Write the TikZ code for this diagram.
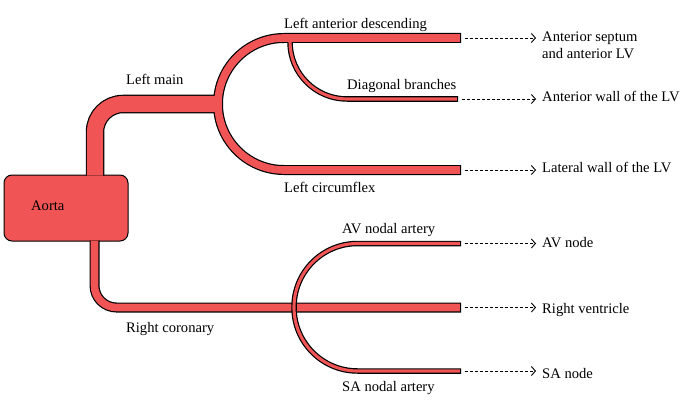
\documentclass[tikz,border=0pt]{standalone}
\usepackage{fontspec}
\setmainfont{Liberation Serif}
\usetikzlibrary{arrows.meta}

\definecolor{vesselred}{RGB}{240,84,84}

\begin{document}
\begin{tikzpicture}[x=1pt, y=-1pt,
    every node/.style={font=\fontsize{14.6}{17}\selectfont, inner sep=0pt},
    vessel/.style={draw=black, line width=#1, line cap=butt},
    blood/.style={draw=vesselred, line width=#1-2.4pt, line cap=butt},
    feed/.style={line width=0.9pt, dash pattern=on 3pt off 2pt,
        -{Straight Barb[length=4pt,width=9pt]}, shorten <=4pt, shorten >=6pt}]
    \useasboundingbox (0,0) rectangle (700,417);

    % Vessel ends
    \coordinate (lmStart) at (95,175.5);
    \coordinate (rcaStart) at (94.5,240.5);
    \coordinate (ladEnd) at (461,38);
    \coordinate (diagEnd) at (458,99);
    \coordinate (lcxEnd) at (461,170);
    \coordinate (avEnd) at (461,243.5);
    \coordinate (rvEnd) at (461,307.5);
    \coordinate (saEnd) at (461,371);

    % Aorta
    \node[draw, fill=vesselred, line width=1pt, rounded corners=8pt,
        minimum width=124pt, minimum height=66pt] (aorta) at (66,208) {};
    \node[anchor=base west] (aortaLabel) at (31,210) {Aorta};

    % Left coronary tree: outlines, then blood
    \draw[vessel=18.5pt, rounded corners=28pt] (lmStart) -- (95,104) -- (218,104);
    \draw[vessel=10pt, rounded corners=66pt] (ladEnd) -- (218,38) -- (218,170) -- (lcxEnd);
    \draw[vessel=5.5pt, rounded corners=57pt] (290,38) -- (290,99) -- (diagEnd);
    \draw[blood=18.5pt, rounded corners=28pt] (lmStart) -- (95,104) -- (218,104);
    \draw[blood=10pt, rounded corners=66pt, shorten <=1.2pt, shorten >=1.2pt]
        (ladEnd) -- (218,38) -- (218,170) -- (lcxEnd);
    \draw[blood=5.5pt, rounded corners=57pt, shorten >=1.2pt] (290,38) -- (290,99) -- (diagEnd);

    % Right coronary tree
    \draw[vessel=10pt, rounded corners=22pt] (rcaStart) -- (94.5,307.5) -- (rvEnd);
    \draw[blood=10pt, rounded corners=22pt, shorten >=1.2pt] (rcaStart) -- (94.5,307.5) -- (rvEnd);
    \draw[vessel=5.5pt, rounded corners=63.5pt] (avEnd) -- (294,243.5) -- (294,371) -- (saEnd);
    \draw[blood=5.5pt, rounded corners=63.5pt, shorten <=1.2pt, shorten >=1.2pt]
        (avEnd) -- (294,243.5) -- (294,371) -- (saEnd);

    % Vessel labels
    \node[anchor=base west] (lmLabel) at (126,84.3) {Left main};
    \node[anchor=base west] (ladLabel) at (284,29) {Left anterior descending};
    \node[anchor=base west] (diagLabel) at (347,89) {Diagonal branches};
    \node[anchor=base west] (lcxLabel) at (284,192.5) {Left circumflex};
    \node[anchor=base west] (avLabel) at (342,233) {AV nodal artery};
    \node[anchor=base west] (rcaLabel) at (126,332) {Right coronary};
    \node[anchor=base west] (saLabel) at (342,391) {SA nodal artery};

    % Supplied regions
    \node[anchor=base west, align=left] (ladTarget) at (542,59) {Anterior septum\\and anterior LV};
    \node[anchor=base west] (diagTarget) at (542,101) {Anterior wall of the LV};
    \node[anchor=base west] (lcxTarget) at (542,172) {Lateral wall of the LV};
    \node[anchor=base west] (avTarget) at (542,247) {AV node};
    \node[anchor=base west] (rvTarget) at (542,313) {Right ventricle};
    \node[anchor=base west] (saTarget) at (542,378) {SA node};

    % Arrows
    \foreach \v in {lad,diag,lcx,av,rv,sa}
        \draw[feed] (\v End) -- (\v End -| \v Target.west);
\end{tikzpicture}
\end{document}
